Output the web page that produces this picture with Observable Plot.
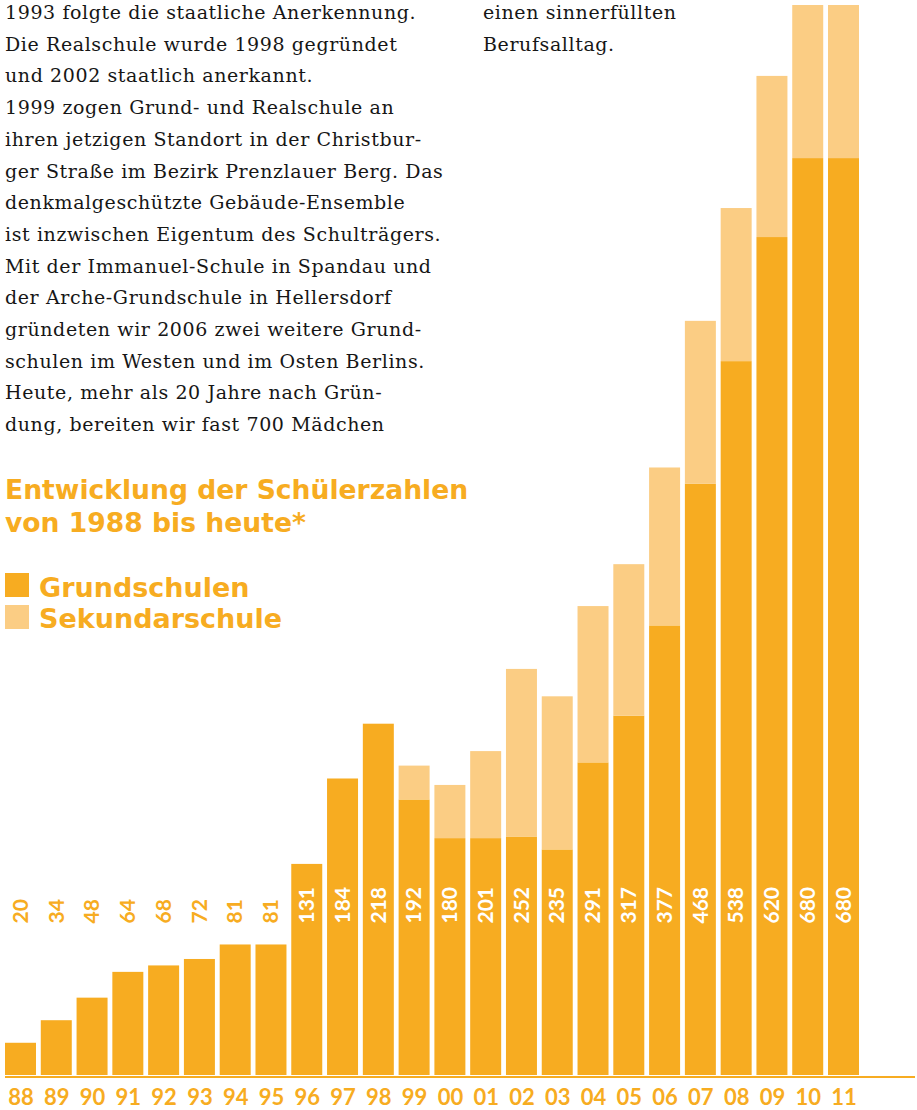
<!DOCTYPE html>
<html>
<head>
<meta charset="utf-8">
<script src="https://cdn.jsdelivr.net/npm/d3@7"></script>
<script src="https://cdn.jsdelivr.net/npm/@observablehq/plot@0.6"></script>
<style>
  html, body { margin: 0; padding: 0; background: #fff; }
  #wrap { position: relative; width: 917px; height: 1110px; overflow: hidden; }
  #chart { position: absolute; left: 0; top: 0; }
  .serif { position: absolute; font-family: "DejaVu Serif", serif; font-size: 19px; line-height: 31.7px; color: #161616; white-space: pre; letter-spacing: 0.6px; }
  .sans { position: absolute; font-family: "DejaVu Sans", sans-serif; font-weight: 700; color: #F7AC21; white-space: pre; }
  .sw { position: absolute; width: 24px; height: 24px; }
</style>
</head>
<body>
<div id="wrap">
  <div id="chart"></div>
  <div class="serif" id="para" style="left:5px; top:-3px;"></div>
  <div class="serif" id="para2" style="left:483px; top:-3px;"></div>
  <div class="sans" id="title" style="left:5px; top:473px; font-size:26.6px; line-height:33px;"></div>
  <div class="sw" style="left:5px; top:573px; background:#F7AC21;"></div>
  <div class="sw" style="left:5px; top:605px; background:#FBCD84;"></div>
  <div class="sans" id="leg1" style="left:39px; top:571px; font-size:27px; line-height:33px;"></div>
  <div class="sans" id="leg2" style="left:39px; top:602px; font-size:27px; line-height:33px;"></div>
</div>
<script>
// ---- data ----
const years = ["88","89","90","91","92","93","94","95","96","97","98","99","00","01","02","03","04","05","06","07","08","09","10","11"];
const totals = [20,34,48,64,68,72,81,81,131,184,218,192,180,201,252,235,291,317,377,468,538,620,680,680];
const grundschulen = [20,34,48,64,68,72,81,81,131,184,218,171,147,147,148,140,194,223,279,367,443,520,569,569];
const sekundarschule = [0,0,0,0,0,0,0,0,0,0,0,21,33,54,104,95,97,94,98,101,95,100,111,111];
const seriesNames = ["Grundschulen", "Sekundarschule"];
const titleLines = ["Entwicklung der Schülerzahlen", "von 1988 bis heute*"];
const paragraphLines = [
  "1993 folgte die staatliche Anerkennung.",
  "Die Realschule wurde 1998 gegründet",
  "und 2002 staatlich anerkannt.",
  "1999 zogen Grund- und Realschule an",
  "ihren jetzigen Standort in der Christbur-",
  "ger Straße im Bezirk Prenzlauer Berg. Das",
  "denkmalgeschützte Gebäude-Ensemble",
  "ist inzwischen Eigentum des Schulträgers.",
  "Mit der Immanuel-Schule in Spandau und",
  "der Arche-Grundschule in Hellersdorf",
  "gründeten wir 2006 zwei weitere Grund-",
  "schulen im Westen und im Osten Berlins.",
  "Heute, mehr als 20 Jahre nach Grün-",
  "dung, bereiten wir fast 700 Mädchen"
];
const paragraph2Lines = ["einen sinnerfüllten", "Berufsalltag."];

// ---- colours ----
const dark = "#F7AC21";
const light = "#FBCD84";

document.getElementById("para").textContent = paragraphLines.join("\n");
document.getElementById("para2").textContent = paragraph2Lines.join("\n");
document.getElementById("title").textContent = titleLines.join("\n");
document.getElementById("leg1").textContent = seriesNames[0];
document.getElementById("leg2").textContent = seriesNames[1];

const rows = [
  ...years.map((y, i) => ({year: y, series: seriesNames[0], value: grundschulen[i]})),
  ...years.map((y, i) => ({year: y, series: seriesNames[1], value: sekundarschule[i]}))
];
const labelRows = years.map((y, i) => ({year: y, total: totals[i]}));

const chart = Plot.plot({
  width: 917,
  height: 1110,
  marginLeft: 5,
  marginRight: 2,
  marginTop: 5,
  marginBottom: 35,
  style: {background: "transparent", overflow: "visible"},
  x: {domain: years, range: [5, 859], paddingInner: 0.134, paddingOuter: 0, round: false, axis: null},
  y: {domain: [0, 664], axis: null},
  color: {domain: seriesNames, range: [dark, light]},
  marks: [
    Plot.barY(rows, {x: "year", y: "value", fill: "series", clip: true}),
    Plot.ruleY([0], {stroke: dark, strokeWidth: 2, dy: 1.5}),
    Plot.text(labelRows, {
      x: "year", y: 94.3, text: d => String(d.total), rotate: -90, textAnchor: "start",
      fill: d => d.total >= 100 ? "#ffffff" : dark,
      fontSize: 21, fontWeight: "bold", fontFamily: "Lato, sans-serif"
    }),
    Plot.text(years, {
      x: d => d, y: 0, dy: 22.5, text: d => d, fill: dark,
      fontSize: 22, fontWeight: "bold", fontFamily: "Lato, sans-serif"
    })
  ]
});
document.getElementById("chart").appendChild(chart);
</script>
</body>
</html>
